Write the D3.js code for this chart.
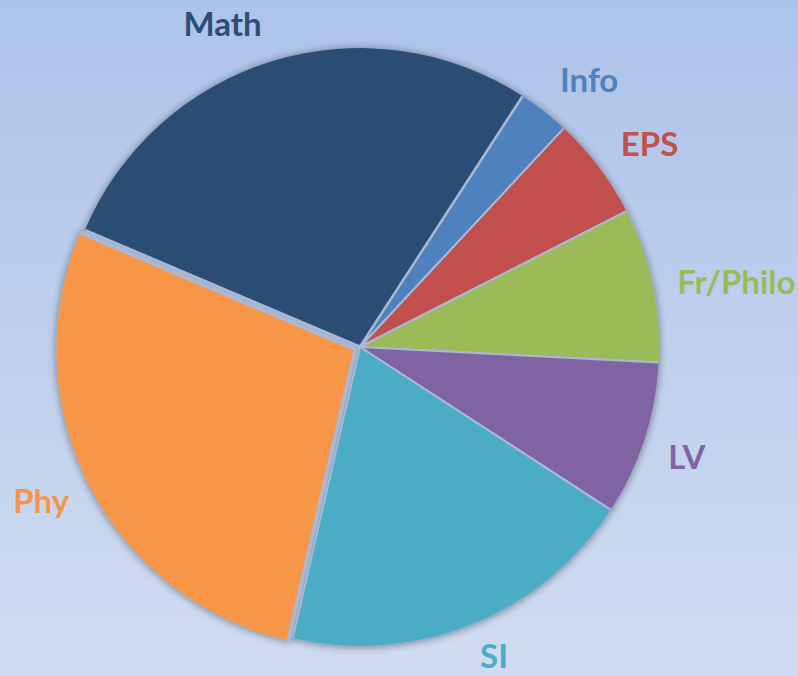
<!DOCTYPE html>
<html>
<head>
<meta charset="utf-8">
<script src="https://cdn.jsdelivr.net/npm/d3@7"></script>
<style>
    html, body { margin: 0; padding: 0; overflow: hidden; }
    svg { display: block; }
</style>
</head>
<body>
<div id="chart"></div>
<script>
var subjects = ['Math', 'Info', 'EPS', 'Fr/Philo', 'LV', 'SI', 'Phy'];
var hours = [10, 1, 2, 3, 3, 7, 10];
var sliceColors = ['#2c4e76', '#4f81bd', '#c0504d', '#9bbb59', '#8064a2', '#4bacc6', '#f79646'];
var exploded = ['Phy'];

var width = 798, height = 676;
var cx = 360, cy = 347, radius = 299;
var startDeg = -67;

var svg = d3.select('#chart').append('svg')
    .attr('width', width)
    .attr('height', height)

var defs = svg.append('defs')
var grad = defs.append('linearGradient')
    .attr('id', 'bg')
    .attr('x1', 0).attr('y1', 0)
    .attr('x2', 0).attr('y2', 1)
grad.append('stop').attr('offset', '0%').attr('stop-color', '#adc3e9')
grad.append('stop').attr('offset', '100%').attr('stop-color', '#d0dcf1')

var shadow = defs.append('filter')
    .attr('id', 'shadow')
    .attr('x', '-10%').attr('y', '-10%')
    .attr('width', '120%').attr('height', '120%')
shadow.append('feGaussianBlur')
    .attr('in', 'SourceAlpha')
    .attr('stdDeviation', 4.5)
    .attr('result', 'blur')
shadow.append('feOffset')
    .attr('in', 'blur')
    .attr('dx', 0).attr('dy', 1)
    .attr('result', 'off')
shadow.append('feComponentTransfer')
    .attr('in', 'off')
    .attr('result', 'soft')
    .append('feFuncA').attr('type', 'linear').attr('slope', 0.45)
var merge = shadow.append('feMerge')
merge.append('feMergeNode').attr('in', 'soft')
merge.append('feMergeNode').attr('in', 'SourceGraphic')

svg.append('rect')
    .attr('width', width)
    .attr('height', height)
    .attr('fill', 'url(#bg)')

var data = subjects.map((s, i) => ({ name: s, value: hours[i], color: sliceColors[i] }))

var pie = d3.pie()
    .sort(null)
    .value(d => d.value)
    .startAngle(startDeg * Math.PI / 180)
    .endAngle(startDeg * Math.PI / 180 + 2 * Math.PI)

var arcs = pie(data)

var arc = d3.arc()
    .innerRadius(0)
    .outerRadius(radius)

var g = svg.append('g')
    .attr('transform', 'translate(' + cx + ',' + cy + ')')

function offset(d) {
    if (!exploded.includes(d.data.name)) return [0, 0]
    var a = (d.startAngle + d.endAngle) / 2
    return [Math.sin(a) * 5, -Math.cos(a) * 5]
}

var slices = g.append('g')
    .attr('filter', 'url(#shadow)')
    .selectAll('g')
    .data(arcs)
    .enter().append('g')
    .attr('transform', d => 'translate(' + offset(d) + ')')

slices.append('path')
    .attr('d', arc)
    .attr('fill', d => d.data.color)

// separators only along the radial edges (no outline on the rim)
slices.append('path')
    .attr('d', d => {
        var r = radius - 0.5
        return 'M' + (Math.sin(d.startAngle) * r) + ',' + (-Math.cos(d.startAngle) * r) +
            'L0,0L' + (Math.sin(d.endAngle) * r) + ',' + (-Math.cos(d.endAngle) * r)
    })
    .attr('fill', 'none')
    .attr('stroke', '#a9b9d5')
    .attr('stroke-width', d => exploded.includes(d.data.name) ? 4 : d.data.name == 'Math' ? 3 : 2)
    .attr('stroke-linejoin', 'round')

// labels sit just outside the rim, along each slice's middle angle
var labelNudge = { 'Math': -6, 'Info': 2.5, 'EPS': 1.8, 'Fr/Philo': 2, 'LV': 0.5, 'SI': -1.5, 'Phy': 1.3 }
var labelPad = { 'SI': -6 }
var labels = g.append('g')
    .selectAll('text')
    .data(arcs)
    .enter().append('text')
    .attr('font-family', 'Lato, "Open Sans", sans-serif')
    .attr('font-weight', 700)
    .attr('font-size', '33px')
    .attr('fill', d => d.data.color)
    .attr('text-anchor', 'middle')
    .attr('dominant-baseline', 'central')
    .text(d => d.data.name)

labels.each(function (d) {
    var bb = this.getBBox()
    var a = (d.startAngle + d.endAngle) / 2 + (labelNudge[d.data.name] || 0) * Math.PI / 180
    var s = Math.sin(a), c = Math.cos(a)
    var dist = radius + 22 + (labelPad[d.data.name] || 0) + Math.abs(s) * bb.width / 2 + Math.abs(c) * 17
    d3.select(this)
        .attr('x', s * dist)
        .attr('y', -c * dist)
})
</script>
</body>
</html>
